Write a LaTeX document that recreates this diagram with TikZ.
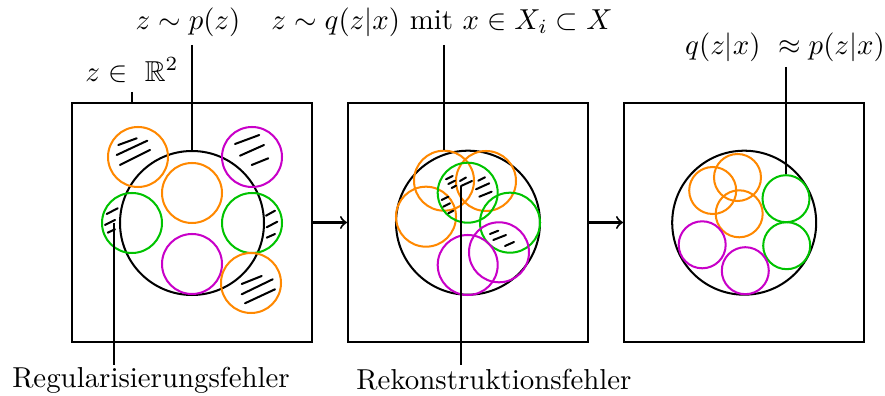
\documentclass[tikz,border=0pt]{standalone}
\usepackage{amssymb}
\definecolor{cor}{RGB}{255,136,0}
\definecolor{cgr}{RGB}{0,195,0}
\definecolor{cmg}{RGB}{200,0,200}
\begin{document}
\begin{tikzpicture}[x=0.3466pt,y=-0.3466pt,line width=0.7pt,
  panel/.style={draw,minimum width=240*0.3466pt,minimum height=239*0.3466pt,inner sep=0pt},
  bigc/.style={circle,draw,minimum size=144*0.3466pt,inner sep=0pt},
  smc/.style={circle,draw,minimum size=60*0.3466pt,inner sep=0pt},
  tinyc/.style={circle,draw,minimum size=47*0.3466pt,inner sep=0pt},
  lbl/.style={inner sep=0pt},
  hatch/.style={line width=0.7pt,line cap=round}]
\useasboundingbox (0,0) rectangle (885,396);
% panels
\node[panel] (b1) at (192,222.5) {};
\node[panel] (b2) at (468,222.5) {};
\node[panel] (b3) at (744,222.5) {};
\draw[->] (b1.east) -- (b2.west);
\draw[->] (b2.east) -- (b3.west);
% panel 1
\node[bigc] (c1) at (192,223) {};
\node[smc,draw=cor] (p1o1) at (138,157) {};
\node[smc,draw=cmg] (p1m1) at (252,157) {};
\node[smc,draw=cor] (p1o2) at (192,193) {};
\node[smc,draw=cgr] (p1g1) at (132,223) {};
\node[smc,draw=cgr] (p1g2) at (252,223) {};
\node[smc,draw=cmg] (p1m2) at (192,264) {};
\node[smc,draw=cor] (p1o3) at (251,283) {};
\foreach \a/\b/\c/\d in {118.3/145/136.7/138.3, 116.7/155/147.3/140.7, 120/165/150/150,
  235/144/259.3/135, 240/155.7/264/145, 251.7/165/268.3/158.3,
  106.7/214/117.7/208.3, 105/225/115/220, 107.7/232.7/115/229.3,
  266/215.7/275/210.7, 266.7/227.3/277.3/221.7, 266.7/237.7/275/234,
  241.7/284/261.7/276, 241.7/294.3/272.7/279.3, 245/303.3/275/289.3}
  \draw[hatch] (\a,\b) -- (\c,\d);
% panel 2
\node[bigc] (c2) at (468,222.7) {};
\node[smc,draw=cor] (p2o1) at (444,180.7) {};
\node[smc,draw=cor] (p2o2) at (486,181) {};
\node[smc,draw=cor] (p2o3) at (426,216.7) {};
\node[smc,draw=cgr] (p2g1) at (467.7,192.7) {};
\node[smc,draw=cgr] (p2g2) at (510,222.7) {};
\node[smc,draw=cmg] (p2m1) at (467.7,265) {};
\node[smc,draw=cmg] (p2m2) at (499,252.3) {};
\foreach \a/\b/\c/\d in {446/179.3/452.7/176, 448.3/184/455/180.7, 451.7/188/456/185.7,
  460/181/466/177.5, 461/186/472/181,
  478.3/180.7/485/177.3, 476/189.3/489.3/183.3, 479.3/196.7/491.7/191.7,
  441.7/200/448.3/196.7, 443.3/206.7/450/203.3, 448.3/213.3/453.3/210.7,
  490/234/498.3/230.7, 493.3/240/506/235, 505/246/514/242}
  \draw[hatch] (\a,\b) -- (\c,\d);
% panel 3
\node[bigc] (c3) at (744.2,222.7) {};
\node[tinyc,draw=cor] (p3o1) at (712.7,190.5) {};
\node[tinyc,draw=cor] (p3o2) at (737.5,177.5) {};
\node[tinyc,draw=cor] (p3o3) at (739.2,213.8) {};
\node[tinyc,draw=cgr] (p3g1) at (786,198.7) {};
\node[tinyc,draw=cgr] (p3g2) at (786.7,245.7) {};
\node[tinyc,draw=cmg] (p3m1) at (702.2,244.8) {};
\node[tinyc,draw=cmg] (p3m2) at (745.3,270.7) {};
% labels
\node[lbl] (lp) at (188,22) {$z\sim p(z)$};
\node[lbl] (lq) at (442,22) {$z\sim q(z|x)$ mit $x\in X_i\subset X$};
\node[lbl] (lR) at (132,70) {$z\in\ \mathbb{R}^2$};
\node[lbl] (la) at (785,47) {$q(z|x)\ \approx p(z|x)$};
\node[lbl] (lreg) at (151,380) {Regularisierungsfehler};
\node[lbl] (lrek) at (494,380) {Rekonstruktionsfehler};
% connectors
\coordinate (tR) at (132,92);
\draw (tR) -- (tR |- b1.north);
\coordinate (tp) at (192,45);
\draw (tp) -- (c1.north);
\coordinate (tq) at (444,45);
\draw (tq) -- (p2o1.north);
\coordinate (ta) at (786,67);
\draw (ta) -- (p3g1.north);
\coordinate (breg) at (114,365);
\coordinate (ereg) at (114,223);
\draw (breg) -- (ereg);
\coordinate (brek) at (461,365);
\coordinate (erek) at (461,186);
\draw (brek) -- (erek);
\end{tikzpicture}
\end{document}
